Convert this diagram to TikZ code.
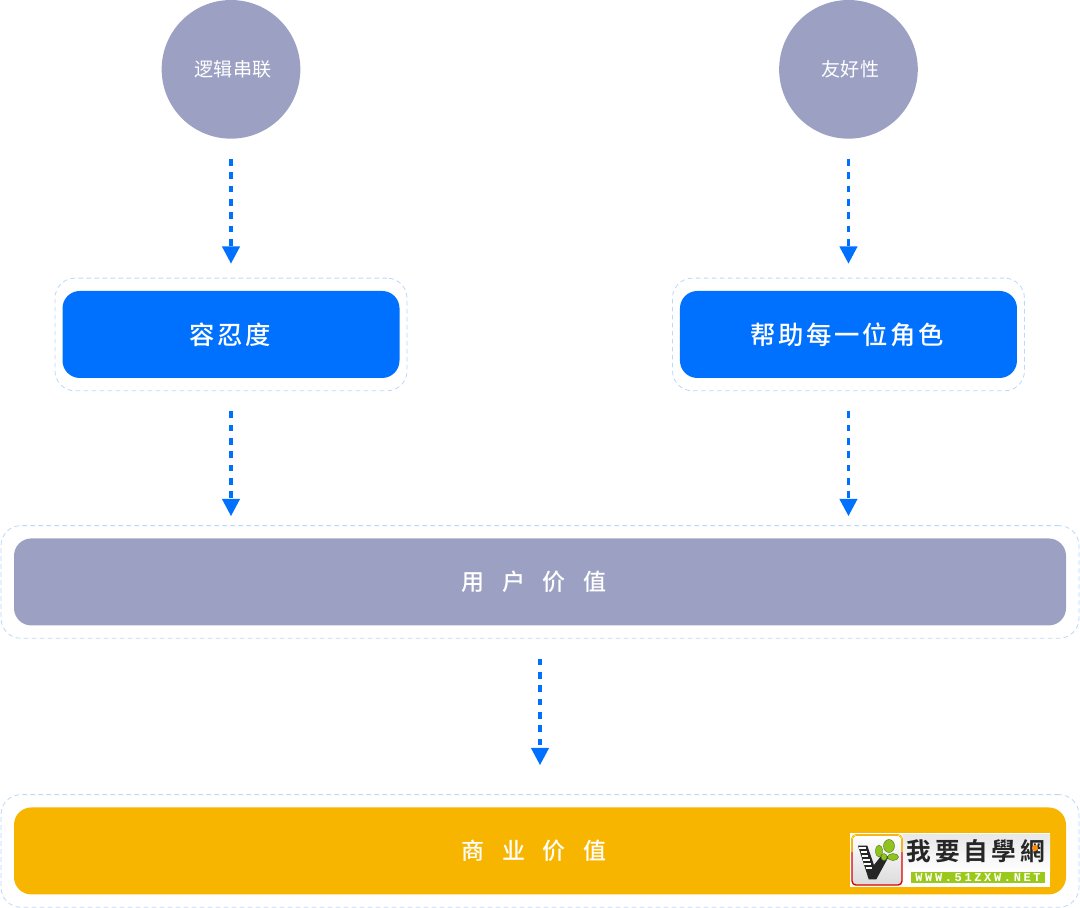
\documentclass[tikz,border=0pt]{standalone}
\usepackage{fontspec}
\usetikzlibrary{arrows.meta,shadings}
\newfontfamily\cjk{Noto Sans CJK SC}
\newfontfamily\cjkmid[LetterSpace=10]{Noto Sans CJK SC Medium}
\newfontfamily\cjkwide[LetterSpace=78]{Noto Sans CJK SC Medium}
\newfontfamily\logocjk[LetterSpace=15]{Noto Sans CJK TC Bold}
\newfontfamily\logolatin[LetterSpace=22]{Liberation Mono Bold}
\definecolor{slate}{HTML}{9CA1C4}
\definecolor{brand}{HTML}{0070FF}
\definecolor{amber}{HTML}{F7B500}
\definecolor{halo}{HTML}{BBD8F8}
\definecolor{leaf}{HTML}{8FC31F}
\begin{document}
\begin{tikzpicture}[node distance=100pt,
    topic/.style={circle, fill=slate, text=white, minimum size=104pt, inner sep=0pt, font=\cjk\fontsize{14.3pt}{16pt}\selectfont},
    block/.style={rectangle, rounded corners=13pt, fill=brand, text=white, minimum width=252.75pt, minimum height=65.25pt, font=\cjkmid\fontsize{19pt}{22pt}\selectfont},
    band/.style={rectangle, rounded corners=13pt, text=white, minimum width=789pt, minimum height=65.25pt, font=\cjkwide\fontsize{17.25pt}{20pt}\selectfont},
    halobox/.style={rectangle, rounded corners=15pt, draw=halo, line width=0.6pt, dash pattern=on 3.5pt off 2.5pt, inner sep=0pt, minimum height=84.5pt},
    flow/.style={draw=brand, line width=2.5pt, dash pattern=on 5pt off 5pt, -{Triangle[length=13pt,width=13pt]}}]

  \useasboundingbox (0,0) rectangle (810pt,-680.25pt);

  \node[topic] (logic) at (173.25pt,-52pt) {\hspace{3pt}逻辑串联};
  \node[topic, right of=logic, node distance=463.1pt] (friendly) {\hspace{3pt}友好性};

  \node[block, below of=logic, node distance=198.85pt] (tolerance) {容忍度\kern1pt};
  \node[block, below of=friendly, node distance=198.85pt] (helpall) {帮助每一位角色\kern2pt};

  \node[coordinate, right of=tolerance, node distance=231.75pt] (middle) {};
  \node[band, fill=slate, below of=middle, node distance=185.6pt] (uservalue) {用户价值\kern9pt};
  \node[band, fill=amber, below of=uservalue, node distance=201.75pt] (bizvalue) {商业价值\kern9pt};

  % dashed frames
  \node[halobox, minimum width=264pt] (framea) at (tolerance) {};
  \node[halobox, minimum width=264pt] (frameb) at (helpall) {};
  \node[halobox, minimum width=808.5pt] (framec) at (uservalue) {};
  \node[halobox, minimum width=808.5pt] (framed) at (bizvalue) {};

  \draw[flow, shorten <=15pt, shorten >=20.25pt] (logic.south) -- (tolerance.north);
  \draw[flow, shorten <=15pt, shorten >=20.25pt] (friendly.south) -- (helpall.north);
  \draw[flow, shorten <=24.75pt, shorten >=16.5pt] (tolerance.south) -- (tolerance.south |- uservalue.north);
  \draw[flow, shorten <=24.75pt, shorten >=16.5pt] (helpall.south) -- (helpall.south |- uservalue.north);
  \draw[flow, shorten <=24.75pt, shorten >=31.5pt] (uservalue.south) -- (bizvalue.north);

  % logo
  \begin{scope}[x=0.75pt, y=-0.75pt]
    \fill[white] (850,833) rectangle (1050,887);
    \shade[top color=black!9, bottom color=white] (903,834) rectangle (1050,872);
    \shade[top color=white, bottom color=black!14, draw=red!85!black, line width=1pt, rounded corners=3pt] (852,835) rectangle (902,885);
    \draw[yellow!90!orange, line width=1pt, rounded corners=3pt] (852,852) -- (852,835) -- (902,835) -- (902,852);
    \fill[black!85] (858,845.7) -- (867.3,845.7) -- (874,865) -- (881,856) -- (889,856) -- (876.3,879.3) -- (868.7,879.3) -- cycle;
    \foreach \y in {848,852,856,860,864,868}
      \draw[white, line width=0.8pt] ({858+(\y-845.7)*.32+0.5},\y) -- ({858+(\y-845.7)*.32+7},\y);
    \fill[leaf, draw=black!40!leaf, line width=0.3pt] (879,851) ellipse (3.5 and 6);
    \fill[leaf, draw=black!40!leaf, line width=0.3pt] (893,857) ellipse (5.5 and 3.5);
    \fill[leaf, draw=black!40!leaf, line width=0.3pt] (889,846) ellipse (5.5 and 6.5);
    \fill[leaf, draw=black!40!leaf, line width=0.3pt] (884,857) ellipse (3 and 3.5);
    \node[anchor=west, inner sep=0pt, text=black!85] (logotext) at (906.5,851) {\logocjk\fontsize{18.5pt}{20pt}\selectfont 我要自學網};
    \fill[orange!90!yellow] (1035,848) circle (3);
    \fill[leaf!90!yellow] (911,872) rectangle (1045,883);
    \node[inner sep=0pt, text=white] (logourl) at (978,877.5) {\logolatin\fontsize{9pt}{10pt}\selectfont WWW.51ZXW.NET};
  \end{scope}
\end{tikzpicture}
\end{document}
